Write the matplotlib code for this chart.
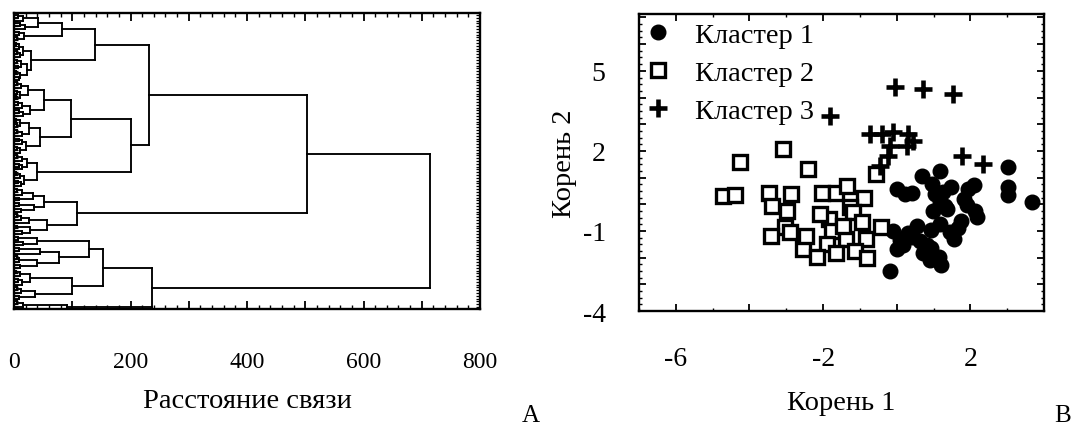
import re
import matplotlib
matplotlib.use("Agg")
import matplotlib.pyplot as plt
from matplotlib.ticker import MultipleLocator, FuncFormatter, FixedLocator

plt.rcParams['font.family'] = ['Liberation Serif', 'DejaVu Serif']
plt.rcParams['axes.unicode_minus'] = False

# ---------------- Dendrogram data (linkage distances) ----------------
D1 = "(((x,x)7,x)15,((x,x)10,x)19)41"
D2 = "((x,x)9,(x,x)5)18"
F = "((((x,x)4,x)9,((x,x)6,x)10)16,(((x,x)5,(x,x)7)12,((x,x)4,(x,x)8)11)22)30"
E1 = "((((x,x)5,x)12,((x,x)6,(x,x)4)10)24,(((x,x)7,x)14,((x,x)9,x)15)28)52"
E2 = "((((x,x)4,(x,x)6)11,((x,x)5,x)13)26,(((x,x)8,x)14,((x,x)6,x)10)21)45"
G = "((((x,x)6,x)13,((x,x)9,x)14)22,(((x,x)4,x)11,((x,x)7,x)12)18)40"
U1a = "(((x,x)5,x)14,(x,x)9)33"
U1b = "((x,x)8,(x,x)12)34"
U2 = "((((x,x)6,x)12,x)25,((x,x)5,(x,x)14)27)56"
W1 = "((x,x)7,(x,x)15)40"
W2a = "((x,x)8,x)45"
W2b = "(((x,x)6,x)9,(x,x)11)40"
V2a = "(((x,x)4,x)10,((x,x)7,x)13)27"
V2b = "(((x,x)5,x)12,(x,x)9)36"
T2 = "(((x,x)6,x)16,x)91"

# upper-level merge distances
h_D, h_C, h_E, h_B, h_A = 82, 139, 97, 201, 232
h_U1, h_U, h_S = 52, 108, 503
h_W2, h_W, h_V2, h_V, h_T, h_R = 77, 129, 99, 153, 237, 714

D = f"({D1},{D2}){h_D}"
C = f"({D},{F}){h_C}"
E = f"({E1},{E2}){h_E}"
B = f"({E},{G}){h_B}"
A = f"({C},{B}){h_A}"
U = f"(({U1a},{U1b}){h_U1},{U2}){h_U}"
S = f"({A},{U}){h_S}"
W = f"({W1},({W2a},{W2b}){h_W2}){h_W}"
V = f"({W},({V2a},{V2b}){h_V2}){h_V}"
T = f"({V},{T2}){h_T}"
TREE = f"({S},{T}){h_R}"

dist_ticks_major = [0, 100, 200, 300, 400, 500, 600, 700, 800]
dist_labels = [0, 200, 400, 600, 800]

# ---------------- Scatter data (canonical roots) ----------------
c1_x = [3.03, 3.03, 3.03, 3.68, 0.69, 1.18, 0.01, 0.23, 0.42, 0.96, 1.26, 1.48,
        1.18, 0.99, 1.37, 1.94, 2.10, 1.83, 2.13, 2.18, 1.75, 1.67, 1.56, 1.18,
        0.93, 0.55, 0.31, 0.09, -0.10, 0.01, 0.64, 0.72, 0.91, 1.15, 1.21, 0.93,
        -0.18, 1.32, 0.17, 0.42, 0.83, 1.45, 1.91, 1.04]
c1_y = [1.39, 0.64, 0.34, 0.08, 1.06, 1.24, 0.57, 0.38, 0.42, 0.76, 0.46, 0.64,
        0.08, -0.25, -0.18, 0.57, 0.72, 0.19, -0.25, -0.48, -0.63, -0.89, -1.30, -0.74,
        -0.97, -0.82, -1.08, -1.34, -1.00, -1.68, -1.38, -1.83, -2.09, -1.98, -2.28, -1.64,
        -2.50, -0.07, -1.53, -1.23, -1.53, -1.04, -0.03, 0.38]

c2_x = [-4.72, -4.39, -4.26, -3.09, -2.41, -3.47, -2.87, -3.39, -2.98, -3.03, -3.41,
        -2.03, -1.65, -1.35, -0.89, -1.27, -1.84, -1.18, -1.76, -1.38, -1.89, -2.54,
        -2.16, -0.83, -0.42, -1.13, -0.80, -2.90, -1.65, -0.56, -2.08, -0.94, -1.46, -2.46]
c2_y = [0.31, 0.34, 1.58, 2.07, 1.32, 0.42, 0.38, -0.07, -0.25, -0.85, -1.19,
        0.42, 0.42, 0.68, 0.23, -0.10, -0.55, -0.29, -1.00, -1.30, -1.49, -1.68,
        -1.98, -1.30, -0.85, -1.75, -2.01, -1.04, -1.83, 1.13, -0.37, -0.67, -0.82, -1.19]

c3_x = [-0.04, 0.72, 1.53, -1.81, -0.72, -0.40, -0.10, 0.31, 0.45, -0.18, 0.28,
        -0.23, -0.45, 1.78, 2.35]
c3_y = [4.39, 4.31, 4.13, 3.30, 2.63, 2.63, 2.70, 2.63, 2.37, 2.18, 2.18,
        1.81, 1.43, 1.81, 1.51]

legend_labels = ["Кластер 1", "Кластер 2", "Кластер 3"]
x_label_vals = [-6, -2, 2]
y_label_vals = [-4, -1, 2, 5]


# ---------------- helpers ----------------
def parse_tree(s):
    pos = 0

    def node():
        nonlocal pos
        if s[pos] == 'x':
            pos += 1
            return None
        assert s[pos] == '('
        pos += 1
        left = node()
        assert s[pos] == ','
        pos += 1
        right = node()
        assert s[pos] == ')'
        pos += 1
        m = re.match(r'[0-9.]+', s[pos:])
        pos += len(m.group())
        return (float(m.group()), left, right)

    return node()


tree = parse_tree(TREE)
leaf_counter = [0]
segments = []


def draw(node):
    if node is None:
        y = leaf_counter[0]
        leaf_counter[0] += 1
        return y, 0.0
    h, l, r = node
    yl, xl = draw(l)
    yr, xr = draw(r)
    segments.append(([xl, h], [yl, yl]))
    segments.append(([xr, h], [yr, yr]))
    segments.append(([h, h], [yl, yr]))
    return (yl + yr) / 2.0, h


draw(tree)
n_leaves = leaf_counter[0]

W_PX, H_PX = 1076, 431
fig = plt.figure(figsize=(W_PX / 100, H_PX / 100), dpi=100)

# ---------------- Panel A: dendrogram ----------------
ax1 = fig.add_axes([14 / W_PX, (H_PX - 310) / H_PX, 466 / W_PX, 296 / H_PX])
for xs, ys in segments:
    ax1.plot(xs, ys, color='black', lw=1.35, solid_capstyle='projecting')
ax1.set_xlim(0, 800)
ax1.set_ylim(n_leaves - 1 - 0.3, -0.7)
ax1.xaxis.set_major_locator(FixedLocator(dist_ticks_major))
ax1.xaxis.set_minor_locator(MultipleLocator(20))
ax1.xaxis.set_major_formatter(FuncFormatter(lambda v, p: f"{int(v)}" if int(round(v)) in dist_labels else ""))
ax1.yaxis.set_major_locator(FixedLocator(list(range(n_leaves))))
ax1.yaxis.set_major_formatter(FuncFormatter(lambda v, p: ""))
ax1.tick_params(axis='x', which='major', direction='in', length=6, width=1.3,
                top=True, bottom=True, labelsize=17, pad=30)
ax1.tick_params(axis='x', which='minor', direction='in', length=3, width=1.0,
                top=True, bottom=True)
ax1.tick_params(axis='y', which='major', direction='in', length=3, width=0.9,
                left=True, right=True)
for sp in ax1.spines.values():
    sp.set_linewidth(1.7)
ax1.set_xlabel("Расстояние связи", fontsize=20.5, labelpad=12)

# ---------------- Panel B: scatter ----------------
ax2 = fig.add_axes([639 / W_PX, (H_PX - 312) / H_PX, 405 / W_PX, 297 / H_PX])
ax2.plot(c1_x, c1_y, linestyle='none', marker='o', ms=10.5, color='black', label=legend_labels[0])
ax2.plot(c2_x, c2_y, linestyle='none', marker='s', ms=10, mfc='white', mec='black', mew=2.4,
         label=legend_labels[1])
ax2.plot(c3_x, c3_y, linestyle='none', marker='+', ms=12.5, color='black', mew=3.3,
         label=legend_labels[2])
ax2.set_xlim(-7, 4)
ax2.set_ylim(-4, 7.13)
ax2.xaxis.set_major_locator(MultipleLocator(2))
ax2.xaxis.set_minor_locator(MultipleLocator(1))
ax2.yaxis.set_major_locator(MultipleLocator(1))
ax2.yaxis.set_minor_locator(MultipleLocator(0.25))
ax2.xaxis.set_major_formatter(FuncFormatter(lambda v, p: f"{int(round(v))}" if int(round(v)) in x_label_vals else ""))
ax2.yaxis.set_major_formatter(FuncFormatter(lambda v, p: f"{int(round(v))}" if abs(v - round(v)) < 1e-6 and int(round(v)) in y_label_vals else ""))
ax2.tick_params(axis='both', which='major', direction='in', length=5, width=1.3,
                top=True, right=True, labelsize=20)
ax2.tick_params(axis='both', which='minor', direction='in', length=2.5, width=1.0,
                top=True, right=True)
ax2.tick_params(axis='x', which='major', pad=25)
ax2.tick_params(axis='y', which='major', pad=24)
for sp in ax2.spines.values():
    sp.set_linewidth(1.7)
ax2.set_xlabel("Корень 1", fontsize=20.5, labelpad=14)
ax2.set_ylabel("Корень 2", fontsize=20.5, labelpad=4)
leg = ax2.legend(loc='upper left', bbox_to_anchor=(0.0, 1.0), frameon=False, fontsize=20.5,
                 handlelength=0.8, handletextpad=0.9, labelspacing=0.42, borderaxespad=0.0,
                 borderpad=0.28, numpoints=1)

fig.text(531 / W_PX, 1 - 416 / H_PX, "А", fontsize=18, ha='center', va='center')
fig.text(1063 / W_PX, 1 - 416 / H_PX, "В", fontsize=18, ha='center', va='center')

fig.savefig("out.png", dpi=100)
